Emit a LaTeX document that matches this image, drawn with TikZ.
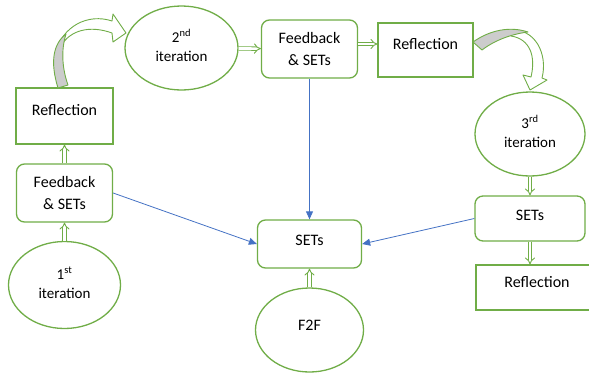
\documentclass[tikz,border=0pt]{standalone}
\usepackage{fontspec}
\setmainfont{Carlito}
\usetikzlibrary{shapes.geometric,arrows.meta,positioning}
\definecolor{boxgreen}{HTML}{70AD47}
\definecolor{linkblue}{HTML}{4472C4}
\newcommand{\iterlabel}[2]{\raisebox{4pt}{\begin{tabular}{@{}c@{}}#1\\#2\end{tabular}}}

\begin{document}
\begin{tikzpicture}[
    x=1pt, y=-1pt,
    box/.style={rectangle, draw=boxgreen, line width=1.3pt, fill=white, font=\fontsize{16}{22}\selectfont, align=center, inner sep=0pt},
    roundbox/.style={box, rounded corners=8pt},
    iter/.style={ellipse, draw=boxgreen, line width=1.3pt, fill=white, font=\fontsize{15}{19.5}\selectfont, inner sep=0pt},
    dblarrow/.style={draw=boxgreen, line width=0.9pt, double=white, double distance=2.6pt, -{Implies}},
    link/.style={-{Triangle[length=8pt,width=7pt]}, linkblue, line width=0.8pt},
    curvearrow/.style={draw=boxgreen, line width=0.9pt, line join=round}
]
    \useasboundingbox (0,0) rectangle (589,373);

    % Left column
    \node[box, minimum width=97pt, minimum height=56pt, text height=11pt, text depth=12pt] (reflA) at (64.5,116) {Reflection};
    \node[roundbox, minimum width=96pt, minimum height=58pt] (fbA) at (64.5,193) {Feedback\\\& SETs};
    \node[iter, minimum width=112pt, minimum height=87pt] (iterA) at (64.5,285) {\iterlabel{1\textsuperscript{st}}{iteration}};

    % Top row
    \node[iter, minimum width=113pt, minimum height=84pt] (iterB) at (181.5,48) {\iterlabel{2\textsuperscript{nd}}{iteration}};
    \node[roundbox, minimum width=96pt, minimum height=58pt] (fbB) at (309.5,49) {Feedback\\\& SETs};
    \node[box, minimum width=95pt, minimum height=54pt, text height=11pt, text depth=12pt] (reflB) at (425.5,50) {Reflection};

    % Right column
    \node[iter, minimum width=110pt, minimum height=84pt] (iterC) at (530,134) {\iterlabel{3\textsuperscript{rd}}{iteration}};
    \node[roundbox, minimum width=110pt, minimum height=45pt, text height=11pt, text depth=7pt] (setsC) at (530,218.5) {SETs};
    \node[box, minimum width=122pt, minimum height=45pt, text height=11pt, text depth=11pt] (reflC) at (537,287.5) {Reflection};

    % Centre
    \node[roundbox, minimum width=104pt, minimum height=48pt, text height=11pt, text depth=8pt] (sets) at (309.5,244) {SETs};
    \node[iter, minimum width=108pt, minimum height=84pt, font=\fontsize{16}{20}\selectfont, text height=11pt, text depth=10pt] (f2f) at (309.5,330) {F2F};

    % Double arrows
    \draw[dblarrow] (iterA) -- (fbA);
    \draw[dblarrow] (fbA) -- (reflA);
    \draw[dblarrow] (iterB) -- (fbB);
    \draw[dblarrow] ([yshift=5pt]fbB.east) -- ([yshift=5pt]fbB.east -| reflB.west);
    \draw[dblarrow] (iterC) -- (setsC);
    \draw[dblarrow] (setsC.south) -- (setsC.south |- reflC.north);
    \draw[dblarrow] (f2f) -- (sets);

    % Blue links into SETs
    \draw[link] (fbA.east) -- (sets.west);
    \draw[link] (fbB) -- (sets);
    \draw[link] (setsC.west) -- (sets.east);

    % Curved arrow Reflection -> 2nd iteration
    \draw[curvearrow, fill=white] (55,54) .. controls (62,26) and (88,13) .. (112,21)
        -- (113,14) -- (126,33) -- (113,42) -- (112,33)
        .. controls (90,25) and (70,30) .. (61,46) -- cycle;
    \draw[curvearrow, fill=gray!40] (58,88) .. controls (50,62) and (53,44) .. (66,34)
        .. controls (61,50) and (62,68) .. (68,85) -- cycle;

    % Curved arrow Reflection -> 3rd iteration
    \draw[curvearrow, fill=white] (508,30) .. controls (536,27) and (548,55) .. (542,78)
        -- (547,80) -- (530,90) -- (523,75) -- (531,77)
        .. controls (536,56) and (530,39) .. (511,36) -- cycle;
    \draw[curvearrow, fill=gray!40] (473,42) .. controls (490,30) and (510,26) .. (528,32)
        .. controls (512,34) and (495,40) .. (482,50) -- cycle;
\end{tikzpicture}
\end{document}
